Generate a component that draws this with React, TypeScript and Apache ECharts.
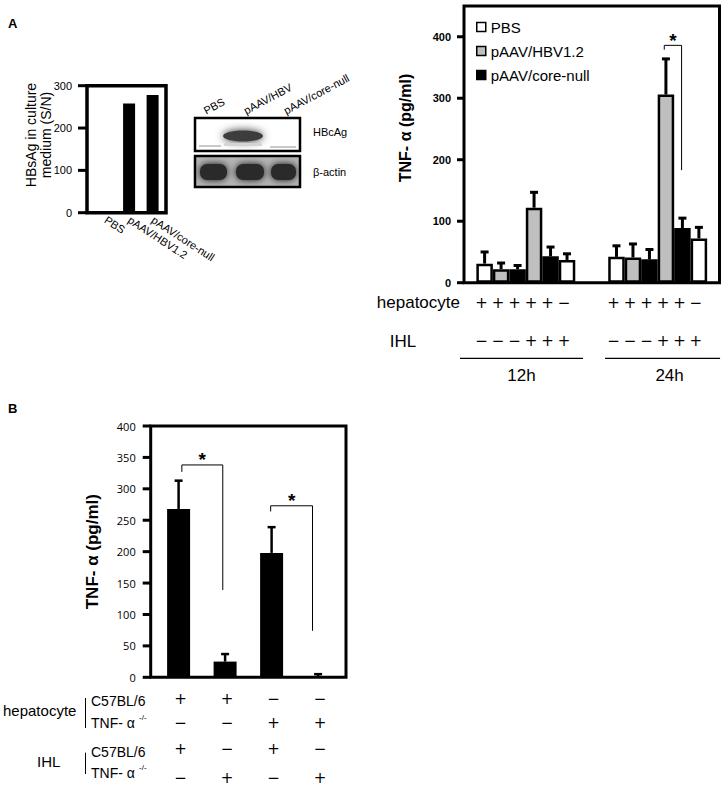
import React, { useEffect, useRef } from 'react';
import * as echarts from 'echarts';

const FONT = '"Liberation Sans", Arial, sans-serif';
const SIGN_FONT = '"DejaVu Sans", sans-serif';

// ---------- Panel A (left): HBsAg ----------
const hbsCategories = ['PBS', 'pAAV/HBV1.2', 'pAAV/core-null'];
const hbsValues = [0, 258, 278];
const hbsTickValues = [0, 100, 200, 300];
const hbsAxisTitle = 'HBsAg in culture\nmedium (S/N)';

// ---------- Western blot ----------
const blotLanes = ['PBS', 'pAAV/HBV', 'pAAV/core-null'];
const blotRows = ['HBcAg', 'β-actin'];

// ---------- Panel A (right): TNF-α ----------
const tnfASeriesNames = ['PBS', 'pAAV/HBV1.2', 'pAAV/core-null'];
const tnfASeriesColors = ['#ffffff', '#bfbfbf', '#000000'];
const tnfAGroups = ['12h', '24h'];
const tnfASlot = [0, 1, 2, 3, 4, 5, 8, 9, 10, 11, 12, 13];
const tnfAKind = [0, 1, 2, 1, 2, 0, 0, 1, 2, 1, 2, 0];
const tnfAValues = [31, 22, 22, 122, 43, 37, 42, 41, 38, 306, 89, 72];
const tnfAErrors = [19, 10, 6, 25, 15, 10, 18, 22, 16, 58, 16, 18];
const tnfAHepatocyte = ['+', '+', '+', '+', '+', '−', '+', '+', '+', '+', '+', '−'];
const tnfAIHL = ['−', '−', '−', '+', '+', '+', '−', '−', '−', '+', '+', '+'];
const tnfATickValues = [0, 100, 200, 300, 400];
const tnfABrackets = [[10.9, 11.95, 386, 379, 183]];
const tnfARowLabels = ['hepatocyte', 'IHL'];
const tnfAAxisTitle = 'TNF- α (pg/ml)';

// ---------- Panel B ----------
const tnfBValues = [268, 25, 198, 2];
const tnfBErrors = [45, 12, 41, 3];
const tnfBTickValues = [0, 50, 100, 150, 200, 250, 300, 350, 400];
const tnfBHepC57 = ['+', '+', '−', '−'];
const tnfBHepKO = ['−', '−', '+', '+'];
const tnfBIhlC57 = ['+', '−', '+', '−'];
const tnfBIhlKO = ['−', '+', '−', '+'];
const tnfBBrackets = [
  [0.07, 0.95, 338, 327, 139],
  [1.98, 2.88, 273, 264, 74],
];
const tnfBRowGroups = ['hepatocyte', 'IHL'];
const tnfBStrains = ['C57BL/6', 'TNF- α'];
const tnfBKoMark = '-/-';
const tnfBAxisTitle = 'TNF- α (pg/ml)';

const X_EXTENT = [
  [-0.79, 2.57],
  [-1.25, 14.25],
  [-0.6, 3.6],
];
const TICK_SPECS: [number, number[], number][] = [
  [0, hbsTickValues, 9],
  [1, tnfATickValues, 7],
  [2, tnfBTickValues, 8],
];

const txt = (text: string, x: number, y: number, size: number, extra: any = {}) => ({
  type: 'text',
  x,
  y,
  style: {
    text,
    fill: '#000',
    font: `${extra.weight || 'normal'} ${size}px ${extra.family || FONT}`,
    align: extra.align || 'center',
    verticalAlign: extra.valign || 'middle',
    lineHeight: extra.lineHeight,
  },
  rotation: extra.rotation || 0,
});

const sign = (s: string, x: number, y: number) => txt(s, x, y, 15, { family: SIGN_FONT });

const errorRender = (half: number, lw: number) => (params: any, api: any) => {
  const x = api.value(0);
  const v = api.value(1);
  const e = api.value(2);
  const p0 = api.coord([x, v]);
  const p1 = api.coord([x, v + e]);
  return {
    type: 'group',
    children: [
      { type: 'line', shape: { x1: p0[0], y1: p0[1], x2: p1[0], y2: p1[1] }, style: { stroke: '#000', lineWidth: lw } },
      { type: 'line', shape: { x1: p1[0] - half, y1: p1[1], x2: p1[0] + half, y2: p1[1] }, style: { stroke: '#000', lineWidth: lw } },
    ],
  };
};

const bracketRender = (params: any, api: any) => {
  const x1 = api.value(0);
  const x2 = api.value(1);
  const yH = api.value(2);
  const yL = api.value(3);
  const yR = api.value(4);
  const pL = api.coord([x1, yL]);
  const pH1 = api.coord([x1, yH]);
  const pH2 = api.coord([x2, yH]);
  const pR = api.coord([x2, yR]);
  return {
    type: 'group',
    children: [
      { type: 'polyline', shape: { points: [pL, pH1, pH2, pR] }, style: { stroke: '#000', lineWidth: 1, fill: 'none' } },
      txt('*', (pH1[0] + pH2[0]) / 2, pH1[1] - 5, 19, { weight: 'bold' }),
    ],
  };
};

const annotARender = (params: any, api: any) => {
  const children: any[] = [];
  const lineExt = [[-24.6, 16], [-11.4, 21.2]];
  const labelShift = [0, 7];
  tnfASlot.forEach((s, i) => {
    const p = api.coord([s, 0]);
    children.push(sign(tnfAHepatocyte[i], p[0] - 3, p[1] + 20));
    children.push(sign(tnfAIHL[i], p[0] - 3, p[1] + 58.3));
  });
  tnfAGroups.forEach((g, gi) => {
    const a = api.coord([tnfASlot[gi * 6], 0]);
    const b = api.coord([tnfASlot[gi * 6 + 5], 0]);
    const x1 = a[0] + lineExt[gi][0];
    const x2 = b[0] + lineExt[gi][1];
    children.push({ type: 'line', shape: { x1, y1: a[1] + 75.6, x2, y2: a[1] + 75.6 }, style: { stroke: '#000', lineWidth: 1.2 } });
    children.push(txt(g, (x1 + x2) / 2 + labelShift[gi], a[1] + 93, 17));
  });
  return { type: 'group', children };
};

const annotBRender = (params: any, api: any) => {
  const children: any[] = [];
  const rows = [tnfBHepC57, tnfBHepKO, tnfBIhlC57, tnfBIhlKO];
  const offsets = [21.2, 46, 72, 101];
  rows.forEach((row, r) => {
    row.forEach((s, i) => {
      const p = api.coord([i, 0]);
      children.push(sign(s, p[0] + 2, p[1] + offsets[r]));
    });
  });
  return { type: 'group', children };
};

function staticGraphic(): any[] {
  const graphic: any[] = [];
  graphic.push(txt('A', 8, 23, 13, { weight: 'bold', align: 'left' }));
  graphic.push(txt('B', 8, 408, 13, { weight: 'bold', align: 'left' }));
  graphic.push(txt(hbsAxisTitle, 38, 135, 14, { rotation: Math.PI / 2, lineHeight: 15 }));
  graphic.push(txt(tnfAAxisTitle, 405, 128, 16, { rotation: Math.PI / 2, weight: 'bold' }));
  graphic.push(txt(tnfARowLabels[0], 460, 302.7, 17, { align: 'right' }));
  graphic.push(txt(tnfARowLabels[1], 403, 341, 17));

  // Western blot
  graphic.push({ type: 'rect', shape: { x: 195, y: 118, width: 105, height: 33 }, style: { fill: '#fff', stroke: '#000', lineWidth: 2.5 } });
  graphic.push({ type: 'ellipse', shape: { cx: 243, cy: 136, rx: 20, ry: 5.5 }, style: { fill: '#3c3c3c', shadowBlur: 8, shadowColor: 'rgba(0,0,0,0.85)' } });
  graphic.push({ type: 'rect', shape: { x: 224, y: 143, width: 38, height: 3, r: 1.5 }, style: { fill: '#d4d4d4' } });
  graphic.push({ type: 'rect', shape: { x: 199, y: 145, width: 22, height: 2 }, style: { fill: '#c8c8c8' } });
  graphic.push({ type: 'rect', shape: { x: 270, y: 146, width: 26, height: 2 }, style: { fill: '#c8c8c8' } });
  graphic.push({ type: 'rect', shape: { x: 195, y: 156, width: 105, height: 31 }, style: { fill: '#b4b4b4' } });
  [[198, 31], [234, 32], [269, 29]].forEach(([x, w]) => {
    graphic.push({ type: 'rect', shape: { x: x + 2, y: 164, width: w - 4, height: 16, r: 7 }, style: { fill: '#2a2a2a', shadowBlur: 7, shadowColor: 'rgba(0,0,0,0.9)' } });
  });
  graphic.push({ type: 'rect', shape: { x: 195, y: 156, width: 105, height: 31 }, style: { fill: 'none', stroke: '#000', lineWidth: 2.5 } });
  const laneX = [207, 247, 287];
  blotLanes.forEach((l, i) => {
    graphic.push(txt(l, laneX[i], 116, 11, { align: 'left', valign: 'bottom', rotation: 0.49 }));
  });
  graphic.push(txt(blotRows[0], 313, 132, 11, { align: 'left' }));
  graphic.push(txt(blotRows[1], 313, 172, 11, { align: 'left' }));

  // Panel B row labels
  graphic.push(txt(tnfBRowGroups[0], 3, 710.7, 15, { align: 'left' }));
  graphic.push(txt(tnfBRowGroups[1], 37, 761.7, 15, { align: 'left' }));
  graphic.push({ type: 'line', shape: { x1: 85.5, y1: 698, x2: 85.5, y2: 728 }, style: { stroke: '#000', lineWidth: 1 } });
  graphic.push({ type: 'line', shape: { x1: 85.5, y1: 752.7, x2: 85.5, y2: 774 }, style: { stroke: '#000', lineWidth: 1 } });
  [[700.7, 723.3], [751.7, 773.3]].forEach(([y1, y2]) => {
    graphic.push(txt(tnfBStrains[0], 91, y1, 14, { align: 'left' }));
    graphic.push(txt(tnfBStrains[1], 91, y2, 14, { align: 'left' }));
    graphic.push(txt(tnfBKoMark, 139, y2 - 6, 8, { align: 'left' }));
  });
  return graphic;
}

function buildOption(): any {
  const yAxisCommon = {
    position: 'left',
    axisLine: { show: false, onZero: false },
    axisTick: { show: false },
    splitLine: { show: false },
  };

  return {
    animation: false,
    backgroundColor: '#ffffff',
    textStyle: { fontFamily: FONT },
    graphic: staticGraphic(),
    legend: {
      data: tnfASeriesNames,
      orient: 'vertical',
      left: 471,
      top: 14.5,
      itemWidth: 9,
      itemHeight: 9,
      itemGap: 9,
      icon: 'rect',
      selectedMode: false,
      textStyle: { fontSize: 15, color: '#000', fontFamily: FONT },
      itemStyle: { borderColor: '#000', borderWidth: 1.5 },
    },
    grid: [
      { left: 87, top: 85.7, width: 79, height: 127, show: true, borderColor: '#000', borderWidth: 3.5 },
      { left: 464, top: 6, width: 255.5, height: 276.7, show: true, borderColor: '#000', borderWidth: 3 },
      { left: 150.7, top: 426, width: 195.3, height: 251.3, show: true, borderColor: '#000', borderWidth: 3 },
    ],
    xAxis: [
      {
        gridIndex: 0,
        type: 'value',
        min: X_EXTENT[0][0],
        max: X_EXTENT[0][1],
        axisLine: { show: false, onZero: false },
        axisTick: { show: false },
        splitLine: { show: false },
        axisLabel: {
          customValues: hbsCategories.map((_, i) => i),
          formatter: (v: number) => hbsCategories[v] ?? '',
          rotate: -33,
          fontSize: 11,
          color: '#000',
          margin: 6,
          fontFamily: FONT,
        },
      },
      { gridIndex: 1, type: 'value', min: X_EXTENT[1][0], max: X_EXTENT[1][1], show: false, axisLine: { onZero: false }, splitLine: { show: false } },
      { gridIndex: 2, type: 'value', min: X_EXTENT[2][0], max: X_EXTENT[2][1], show: false, axisLine: { onZero: false }, splitLine: { show: false } },
    ],
    yAxis: [
      {
        gridIndex: 0,
        type: 'value',
        min: 0,
        max: 300,
        interval: 100,
        ...yAxisCommon,
        axisLabel: { fontSize: 11, color: '#000', margin: 15, fontFamily: FONT },
      },
      {
        gridIndex: 1,
        type: 'value',
        min: 0,
        max: 450,
        interval: 100,
        ...yAxisCommon,
        axisLabel: {
          customValues: tnfATickValues,
          formatter: (v: number) => (v > 400 ? '' : String(v)),
          fontSize: 11,
          fontWeight: 'bold',
          color: '#000',
          margin: 13,
          fontFamily: FONT,
        },
      },
      {
        gridIndex: 2,
        type: 'value',
        min: 0,
        max: 400,
        interval: 50,
        ...yAxisCommon,
        axisLabel: { fontSize: 11, color: '#000', margin: 15, fontFamily: '"Open Sans", sans-serif' },
        name: tnfBAxisTitle,
        nameLocation: 'middle',
        nameGap: 50,
        nameTextStyle: { fontSize: 17, fontWeight: 'bold', color: '#000', fontFamily: FONT },
      },
    ],
    series: [
      {
        type: 'bar',
        name: 'HBsAg',
        xAxisIndex: 0,
        yAxisIndex: 0,
        barWidth: 12,
        data: hbsValues.map((v, i) => [i, v]),
        itemStyle: { color: '#000' },
      },
      ...tnfASeriesNames.map((name, k) => ({
        type: 'bar',
        name,
        xAxisIndex: 1,
        yAxisIndex: 1,
        barWidth: 16.5,
        barGap: '-100%',
        data: tnfASlot.map((s, i) => (tnfAKind[i] === k ? [s, tnfAValues[i]] : null)).filter((d) => d !== null),
        itemStyle: { color: tnfASeriesColors[k], borderColor: '#000', borderWidth: 2.5 },
      })),
      {
        type: 'custom',
        name: 'errA',
        xAxisIndex: 1,
        yAxisIndex: 1,
        z: 5,
        renderItem: errorRender(4, 3),
        data: tnfASlot.map((s, i) => [s, tnfAValues[i], tnfAErrors[i]]),
      },
      {
        type: 'custom',
        name: 'bracketA',
        xAxisIndex: 1,
        yAxisIndex: 1,
        z: 5,
        renderItem: bracketRender,
        data: tnfABrackets,
      },
      {
        type: 'custom',
        name: 'annotA',
        xAxisIndex: 1,
        yAxisIndex: 1,
        renderItem: annotARender,
        data: [[0, 0]],
      },
      {
        type: 'bar',
        name: 'tnfB',
        xAxisIndex: 2,
        yAxisIndex: 2,
        barWidth: 23,
        data: tnfBValues.map((v, i) => [i, v]),
        itemStyle: { color: '#000' },
      },
      {
        type: 'custom',
        name: 'errB',
        xAxisIndex: 2,
        yAxisIndex: 2,
        z: 5,
        renderItem: errorRender(4, 2.5),
        data: tnfBValues.map((v, i) => [i, v, tnfBErrors[i]]),
      },
      {
        type: 'custom',
        name: 'bracketB',
        xAxisIndex: 2,
        yAxisIndex: 2,
        z: 5,
        renderItem: bracketRender,
        data: tnfBBrackets,
      },
      {
        type: 'custom',
        name: 'annotB',
        xAxisIndex: 2,
        yAxisIndex: 2,
        renderItem: annotBRender,
        data: [[0, 0]],
      },
    ],
  };
}

export default function App() {
  const ref = useRef<HTMLDivElement>(null);
  useEffect(() => {
    document.body.style.margin = '0';
    const chart = echarts.init(ref.current as HTMLDivElement, null, { renderer: 'svg' });
    chart.setOption(buildOption());
    // outward y-axis ticks, positioned through each grid's own scales
    const ticks: any[] = [];
    TICK_SPECS.forEach(([gi, values, len]) => {
      values.forEach((v) => {
        const p = chart.convertToPixel({ xAxisIndex: gi, yAxisIndex: gi }, [X_EXTENT[gi][0], v]) as number[];
        if (p && isFinite(p[0]) && isFinite(p[1])) {
          ticks.push({
            type: 'rect',
            z: 100,
            shape: { x: p[0] - len, y: p[1] - 1.5, width: len, height: 3 },
            style: { fill: '#000' },
          });
        }
      });
    });
    chart.setOption({ graphic: [...staticGraphic(), ...ticks] }, { replaceMerge: ['graphic'] });
    return () => chart.dispose();
  }, []);
  return <div ref={ref} style={{ width: 725, height: 789, background: '#fff' }} />;
}
